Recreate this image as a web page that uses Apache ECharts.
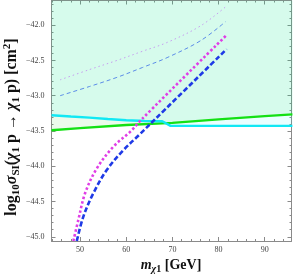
<!DOCTYPE html>
<html><head><meta charset="utf-8">
<script src="https://cdn.jsdelivr.net/npm/echarts@6/dist/echarts.min.js"></script>
<style>html,body{margin:0;padding:0;background:#fff}#c{width:293px;height:275px}</style>
</head><body><div id="c"></div>
<script>
// ---- data (mass in GeV, log10 sigma in cm^2) ----
const magentaDotted = [[48.54,-45.06],[49.63,-44.756],[51.09,-44.38],[53.63,-44.03],[57.24,-43.72],[60.87,-43.51],[63.41,-43.33],[81.74,-42.14]];
const blueDashed = [[49.28,-45.06],[50.72,-44.71],[52.89,-44.38],[55.80,-44.05],[59.41,-43.77],[63.04,-43.54],[66.30,-43.33],[81.74,-42.34]];
const lavenderDotted = [[45.65,-42.775],[52.0,-42.63],[57.97,-42.50],[63.5,-42.37],[68.85,-42.245],[76.09,-42.01],[81.52,-41.74]];
const thinBlueDashed = [[45.65,-43.0],[52.0,-42.87],[57.97,-42.74],[63.5,-42.6],[68.85,-42.46],[76.09,-42.22],[81.52,-41.95]];
const cyanLine = [[43.8,-43.277],[48,-43.295],[52,-43.31],[56,-43.33],[60,-43.348],[64,-43.358],[67.8,-43.362],[69.6,-43.428],[96,-43.428]];
const greenLine = [[43.8,-43.49],[50,-43.46],[60,-43.415],[70,-43.385],[80,-43.335],[90,-43.29],[96,-43.265]];
const xTicks = [50,60,70,80,90];
const xMinorTicks = [44,46,48,52,54,56,58,62,64,66,68,72,74,76,78,82,84,86,88,92,94];
const yTicks = [-45.0,-44.5,-44.0,-43.5,-43.0,-42.5,-42.0];
const yMinorTicks = [-44.9,-44.8,-44.7,-44.6,-44.4,-44.3,-44.2,-44.1,-43.9,-43.8,-43.7,-43.6,-43.4,-43.3,-43.2,-43.1,-42.9,-42.8,-42.7,-42.6,-42.4,-42.3,-42.2,-42.1,-41.9,-41.8,-41.7];
const xMin = 43.8, xMax = 95.8, yMin = -45.06, yMax = -41.65;

const chart = echarts.init(document.getElementById('c'), null, {renderer:'canvas'});
const axisColor = '#8a8a8a';
const serif = '"Liberation Serif", "DejaVu Serif", serif';
const fmtY = v => (v < 0 ? '\u2212' : '') + Math.abs(v).toFixed(1);
const gridBox = {left:51.5, right:1.5, top:0.5, bottom:34, outerBoundsMode:'none'};

function xAx(grid, pos, ticks, len, labels){
  return {type:'value', gridIndex:grid, position:pos, min:xMin, max:xMax,
    axisLine:{show:grid===0, lineStyle:{color:axisColor, width:1}},
    axisTick:{show:true, inside:true, length:len, customValues:ticks, lineStyle:{color:axisColor}},
    axisLabel:{show:labels, customValues:ticks, color:'#444', fontFamily:serif, fontSize:8, margin:5},
    splitLine:{show:false}};
}
function yAx(grid, pos, ticks, len, labels){
  return {type:'value', gridIndex:grid, position:pos, min:yMin, max:yMax,
    axisLine:{show:grid===0, lineStyle:{color:axisColor, width:1}},
    axisTick:{show:true, inside:true, length:len, customValues:ticks, lineStyle:{color:axisColor}},
    axisLabel:{show:labels, customValues:ticks, formatter:fmtY, color:'#444', fontFamily:serif, fontSize:8, margin:7},
    splitLine:{show:false}};
}
const SM = 0.35;
const big = 16, small = 11;
const option = {
  animation:false,
  backgroundColor:'#fff',
  grid:[Object.assign({}, gridBox), Object.assign({}, gridBox)],
  xAxis:[xAx(0,'bottom',xTicks,4,true), xAx(0,'top',xTicks,4,false), xAx(1,'bottom',xMinorTicks,2,false), xAx(1,'top',xMinorTicks,2,false)],
  yAxis:[yAx(0,'left',yTicks,4,true), yAx(0,'right',yTicks,4,false), yAx(1,'left',yMinorTicks,2,false), yAx(1,'right',yMinorTicks,2,false)],
  series:[
    {type:'line', xAxisIndex:0, yAxisIndex:0, data:greenLine, showSymbol:false, smooth:false,
      lineStyle:{color:'#14e014', width:2.4}, areaStyle:{origin:'end', color:'rgba(0,200,0,0.11)'}, z:3},
    {type:'line', xAxisIndex:0, yAxisIndex:0, data:cyanLine, showSymbol:false, smooth:false,
      lineStyle:{color:'#11e8f4', width:2.4}, areaStyle:{origin:'end', color:'rgba(0,255,255,0.12)'}, z:3},
    {type:'line', xAxisIndex:0, yAxisIndex:0, data:lavenderDotted, showSymbol:false, smooth:SM,
      lineStyle:{color:'#c79ff0', width:1, type:[1.5,3]}, z:4},
    {type:'line', xAxisIndex:0, yAxisIndex:0, data:thinBlueDashed, showSymbol:false, smooth:SM,
      lineStyle:{color:'#5b8ce8', width:1, type:[4,3]}, z:4},
    {type:'line', xAxisIndex:0, yAxisIndex:0, data:magentaDotted, showSymbol:false, smooth:SM,
      lineStyle:{color:'#e03ee6', width:2.6, type:[2.5,2.3]}, z:5},
    {type:'line', xAxisIndex:0, yAxisIndex:0, data:blueDashed, showSymbol:false, smooth:SM,
      lineStyle:{color:'#1f3ae6', width:2.6, type:[5,2.5]}, z:5}
  ],
  graphic:[
    {type:'text', x:12, y:127, rotation:Math.PI/2, z:10,
      style:{text:'{b|log}{s|10}{i|\u03c3}{s|SI}{b|(}{i|\u03c7}{s|1}{b| p \u2192 }{i|\u03c7}{s|1}{b| p) [cm}{p|2}{b|]}',
        align:'center', verticalAlign:'middle',
        rich:{
          b:{fontFamily:serif, fontWeight:'bold', fontSize:big, fill:'#111', lineHeight:20},
          i:{fontFamily:serif, fontWeight:'bold', fontStyle:'italic', fontSize:big, fill:'#111', lineHeight:20},
          s:{fontFamily:serif, fontWeight:'bold', fontSize:small, fill:'#111', verticalAlign:'bottom', lineHeight:13},
          p:{fontFamily:serif, fontWeight:'bold', fontSize:small, fill:'#111', verticalAlign:'top', lineHeight:13}
        }}},
    {type:'text', x:171, y:265, z:10,
      style:{text:'{i|m}{si|\u03c7}{s|1}{b| [GeV]}', align:'center', verticalAlign:'middle',
        rich:{
          b:{fontFamily:serif, fontWeight:'bold', fontSize:14, fill:'#111', lineHeight:18},
          i:{fontFamily:serif, fontWeight:'bold', fontStyle:'italic', fontSize:14, fill:'#111', lineHeight:18},
          si:{fontFamily:serif, fontWeight:'bold', fontStyle:'italic', fontSize:10, fill:'#111', verticalAlign:'bottom', lineHeight:12},
          s:{fontFamily:serif, fontWeight:'bold', fontSize:10, fill:'#111', verticalAlign:'bottom', lineHeight:12}
        }}}
  ]
};
chart.setOption(option);
</script></body></html>
